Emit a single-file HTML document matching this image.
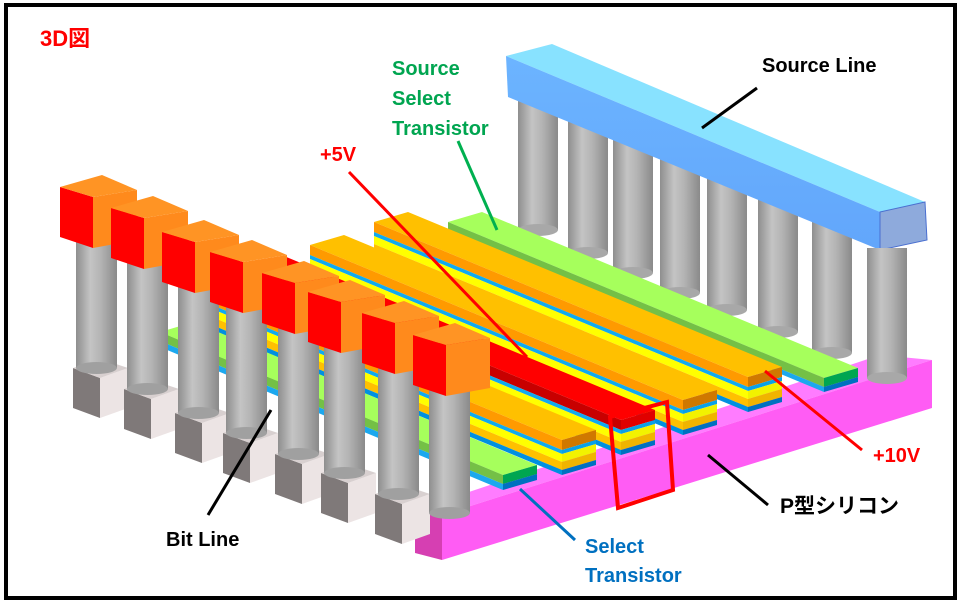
<!DOCTYPE html>
<html><head><meta charset="utf-8"><style>
html,body{margin:0;padding:0;background:#fff;}
svg{display:block;}
text{font-family:"Liberation Sans","Noto Sans CJK JP",sans-serif;font-weight:bold;}
</style></head><body>
<svg width="961" height="604" viewBox="0 0 961 604" xmlns="http://www.w3.org/2000/svg">
<defs>
<linearGradient id="cyl" x1="0" x2="1" y1="0" y2="0">
<stop offset="0" stop-color="#8e8e8e"/><stop offset="0.35" stop-color="#c4c4c4"/><stop offset="0.6" stop-color="#b4b4b4"/><stop offset="1" stop-color="#8a8a8a"/>
</linearGradient>
<linearGradient id="barf" x1="0" x2="0" y1="0" y2="1">
<stop offset="0" stop-color="#6cb4ff"/><stop offset="1" stop-color="#62a6fb"/>
</linearGradient>
<g id="pil">
<rect x="0" y="0" width="40" height="400" fill="url(#cyl)"/>
</g>
<g id="bcol">
<rect x="16" y="55" width="41" height="125" fill="url(#cyl)"/>
<ellipse cx="36.5" cy="180" rx="20.5" ry="6" fill="#a8a8a8"/>
<polygon points="13,181 40,191 40,231 13,221" fill="#7f7979"/>
<polygon points="40,191 68,181 68,221 40,231" fill="#ece4e4"/>
<polygon points="13,181 40,191 68,181 41,172" fill="#d8d0d0"/>
<rect x="16" y="55" width="41" height="126" fill="url(#cyl)"/>
<ellipse cx="36.5" cy="181" rx="20.5" ry="6" fill="#a0a0a0"/>
<polygon points="0,0 33,10 33,61 0,50" fill="#ff0000"/>
<polygon points="33,10 77,3 77,53 33,61" fill="#ff8a1c"/>
<polygon points="0,0 42,-12 77,3 33,10" fill="#ff9424"/>
</g>
</defs>

<!-- back pillars -->
<polygon points="520,300 905,380 905,395 520,318" fill="#e8e2e2"/>
<rect x="518" y="95" width="40" height="135" fill="url(#cyl)"/><ellipse cx="538" cy="230" rx="20" ry="6" fill="#a8a8a8"/>
<rect x="568" y="115" width="40" height="138" fill="url(#cyl)"/><ellipse cx="588" cy="253" rx="20" ry="6" fill="#a8a8a8"/>
<rect x="613" y="135" width="40" height="138" fill="url(#cyl)"/><ellipse cx="633" cy="273" rx="20" ry="6" fill="#a8a8a8"/>
<rect x="660" y="155" width="40" height="138" fill="url(#cyl)"/><ellipse cx="680" cy="293" rx="20" ry="6" fill="#a8a8a8"/>
<rect x="707" y="175" width="40" height="135" fill="url(#cyl)"/><ellipse cx="727" cy="310" rx="20" ry="6" fill="#a8a8a8"/>
<rect x="758" y="195" width="40" height="137" fill="url(#cyl)"/><ellipse cx="778" cy="332" rx="20" ry="6" fill="#a8a8a8"/>
<rect x="812" y="215" width="40" height="138" fill="url(#cyl)"/><ellipse cx="832" cy="353" rx="20" ry="6" fill="#a8a8a8"/>

<!-- source line bar -->
<polygon points="506,56 552,44 925,202 880,212" fill="#88e2ff"/>
<polygon points="506,56 880,212 880,250 508,97" fill="url(#barf)"/>
<polygon points="880,212 925,202 927,240 880,250" fill="#8eaadc" stroke="#4a6fd0" stroke-width="1"/>

<!-- pink substrate -->
<polygon points="415,510 880,355 932,360 442,515" fill="#ff7cff"/>
<polygon points="442,515 932,360 932,408 442,560" fill="#ff5cf4"/>
<polygon points="415,510 442,515 442,560 415,553" fill="#d63fb2"/>

<!-- front right pillar -->
<rect x="867" y="248" width="40" height="130" fill="url(#cyl)"/><ellipse cx="887" cy="378" rx="20" ry="6" fill="#a8a8a8"/>

<!-- strip: green back -->
<polygon points="448,222 824,378 858,368 482,212" fill="#a6ff5c"/>
<polygon points="448,222 824,378 824,387 448,231" fill="#74c046"/>
<polygon points="448,231 824,387 824,392 448,236" fill="#1ca8ee"/>
<polygon points="824,378 858,368 858,377 824,387" fill="#00a651"/>
<polygon points="824,387 858,377 858,382 824,392" fill="#0070c0"/>

<!-- orange3 -->
<polygon points="374,222 748,377 782,367 408,212" fill="#ffc000"/>
<polygon points="374,222 748,377 748,387 374,232" fill="#ff9a00"/>
<polygon points="374,232 748,387 748,391 374,236" fill="#10aaf0"/>
<polygon points="374,236 748,391 748,399 374,244" fill="#ffff00"/>
<polygon points="374,244 748,399 748,407 374,252" fill="#ffc000"/>
<polygon points="374,252 748,407 748,412 374,257" fill="#0090e0"/>
<polygon points="748,377 782,367 782,377 748,387" fill="#d07800"/>
<polygon points="748,387 782,377 782,381 748,391" fill="#0aa0e8"/>
<polygon points="748,391 782,381 782,389 748,399" fill="#f2f200"/>
<polygon points="748,399 782,389 782,397 748,407" fill="#f0b400"/>
<polygon points="748,407 782,397 782,402 748,412" fill="#0070c0"/>

<!-- orange2 -->
<polygon points="310,245 683,400 717,390 344,235" fill="#ffc000"/>
<polygon points="310,245 683,400 683,410 310,255" fill="#ff9a00"/>
<polygon points="310,255 683,410 683,414 310,259" fill="#10aaf0"/>
<polygon points="310,259 683,414 683,422 310,267" fill="#ffff00"/>
<polygon points="310,267 683,422 683,430 310,275" fill="#ffc000"/>
<polygon points="310,275 683,430 683,435 310,280" fill="#0090e0"/>
<polygon points="683,400 717,390 717,400 683,410" fill="#d07800"/>
<polygon points="683,410 717,400 717,404 683,414" fill="#0aa0e8"/>
<polygon points="683,414 717,404 717,412 683,422" fill="#f2f200"/>
<polygon points="683,422 717,412 717,420 683,430" fill="#f0b400"/>
<polygon points="683,430 717,420 717,425 683,435" fill="#0070c0"/>

<!-- red -->
<polygon points="250,266 621,420 655,410 284,256" fill="#ff0000"/>
<polygon points="250,266 621,420 621,430 250,276" fill="#c80000"/>
<polygon points="250,276 621,430 621,434 250,280" fill="#10aaf0"/>
<polygon points="250,280 621,434 621,442 250,288" fill="#ffff00"/>
<polygon points="250,288 621,442 621,450 250,296" fill="#ffc000"/>
<polygon points="250,296 621,450 621,455 250,301" fill="#0090e0"/>
<polygon points="621,420 655,410 655,420 621,430" fill="#e00000"/>
<polygon points="621,430 655,420 655,424 621,434" fill="#0aa0e8"/>
<polygon points="621,434 655,424 655,432 621,442" fill="#f2f200"/>
<polygon points="621,442 655,432 655,440 621,450" fill="#f0b400"/>
<polygon points="621,450 655,440 655,445 621,455" fill="#0070c0"/>

<!-- orange1 -->
<polygon points="200,290 562,440 596,430 234,280" fill="#ffc000"/>
<polygon points="200,290 562,440 562,450 200,300" fill="#ff9a00"/>
<polygon points="200,300 562,450 562,454 200,304" fill="#10aaf0"/>
<polygon points="200,304 562,454 562,462 200,312" fill="#ffff00"/>
<polygon points="200,312 562,462 562,470 200,320" fill="#ffc000"/>
<polygon points="200,320 562,470 562,475 200,325" fill="#0090e0"/>
<polygon points="562,440 596,430 596,440 562,450" fill="#d07800"/>
<polygon points="562,450 596,440 596,444 562,454" fill="#0aa0e8"/>
<polygon points="562,454 596,444 596,452 562,462" fill="#f2f200"/>
<polygon points="562,462 596,452 596,460 562,470" fill="#f0b400"/>
<polygon points="562,470 596,460 596,465 562,475" fill="#0070c0"/>

<!-- green select -->
<polygon points="160,332 503,475 537,465 194,322" fill="#a6ff5c"/>
<polygon points="160,332 503,475 503,484 160,341" fill="#74c046"/>
<polygon points="160,341 503,484 503,490 160,347" fill="#1ca8ee"/>
<polygon points="503,475 537,465 537,474 503,484" fill="#00a651"/>
<polygon points="503,484 537,474 537,480 503,490" fill="#0070c0"/>

<!-- bit line columns -->
<use href="#bcol" x="60" y="187"/>
<use href="#bcol" x="111" y="208"/>
<use href="#bcol" x="162" y="232"/>
<use href="#bcol" x="210" y="252"/>
<use href="#bcol" x="262" y="273"/>
<use href="#bcol" x="308" y="292"/>
<use href="#bcol" x="362" y="313"/>
<g transform="translate(413,335)">
<rect x="16" y="55" width="41" height="123" fill="url(#cyl)"/>
<ellipse cx="36.5" cy="178" rx="20.5" ry="6" fill="#a0a0a0"/>
<polygon points="0,0 33,10 33,61 0,50" fill="#ff0000"/>
<polygon points="33,10 77,3 77,53 33,61" fill="#ff8a1c"/>
<polygon points="0,0 42,-12 77,3 33,10" fill="#ff9424"/>
</g>

<!-- red highlight box -->
<polygon points="610,417 667,402 673,490 618,508" fill="none" stroke="#ff0000" stroke-width="4"/>

<!-- leader lines -->
<line x1="757" y1="88" x2="702" y2="128" stroke="#000" stroke-width="3"/>
<line x1="458" y1="141" x2="497" y2="230" stroke="#00b050" stroke-width="3"/>
<line x1="349" y1="172" x2="527" y2="357" stroke="#ff0000" stroke-width="3"/>
<line x1="862" y1="450" x2="765" y2="371" stroke="#ff0000" stroke-width="3"/>
<line x1="768" y1="505" x2="708" y2="455" stroke="#000" stroke-width="3"/>
<line x1="208" y1="515" x2="271" y2="410" stroke="#000" stroke-width="3"/>
<line x1="575" y1="540" x2="520" y2="489" stroke="#0070c0" stroke-width="3"/>

<!-- labels -->
<text x="40" y="46" font-size="22" fill="#ff0000">3D図</text>
<text x="762" y="72" font-size="20" fill="#000">Source Line</text>
<text x="392" y="75" font-size="20" fill="#00a550">Source</text>
<text x="392" y="105" font-size="20" fill="#00a550">Select</text>
<text x="392" y="135" font-size="20" fill="#00a550">Transistor</text>
<text x="320" y="161" font-size="20" fill="#ff0000">+5V</text>
<text x="873" y="462" font-size="20" fill="#ff0000">+10V</text>
<text x="780" y="513" font-size="21" fill="#000">P型シリコン</text>
<text x="166" y="546" font-size="20" fill="#000">Bit Line</text>
<text x="585" y="553" font-size="20" fill="#0070c0">Select</text>
<text x="585" y="582" font-size="20" fill="#0070c0">Transistor</text>

<!-- frame -->
<rect x="6" y="5" width="949" height="593" fill="none" stroke="#000" stroke-width="4"/>
</svg>
</body></html>
